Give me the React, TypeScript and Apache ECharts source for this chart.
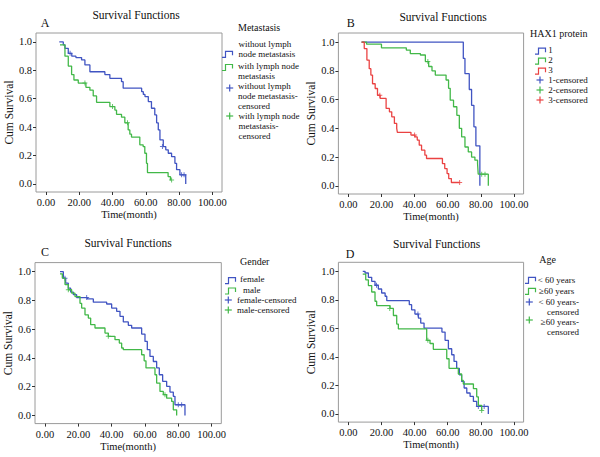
import React, { useEffect, useRef } from 'react';
import * as echarts from 'echarts';

// ---------- tick labels ----------
const xTicks = [0, 20, 40, 60, 80, 100];
const yTicks = [0, 0.2, 0.4, 0.6, 0.8, 1.0];

// ---------- texts ----------
const panelLetters = ['A', 'B', 'C', 'D'];
const chartTitle = 'Survival Functions';
const xName = 'Time(month)';
const yName = 'Cum Survival';
const legendTitles = ['Metastasis', 'HAX1 protein', 'Gender', 'Age'];
const legendA = [['without lymph', 'node metastasis'], ['with lymph node', 'metastasis'], ['without lymph', 'node metastasis-', 'censored'], ['with lymph node', 'metastasis-', 'censored']];
const legendB = ['1', '2', '3', '1-censored', '2-censored', '3-censored'];
const legendC = ['female', 'male', 'female-censored', 'male-censored'];
const legendD = [['< 60 years'], ['\u226560 years'], ['< 60 years-', 'censored'], ['\u226560 years-', 'censored']];

// ---------- A: Metastasis ----------
const tA1 = [8, 10.4, 11.4, 13.4, 15.5, 18, 21.4, 23.4, 26.4, 35.4, 38.4, 45.4, 46.4, 57.5, 58.5, 59.5, 61.5, 63.4, 65.4, 66.5, 67.5, 68.5, 70.5, 72, 73.5, 75.5, 77.5, 78.5, 80.5, 84];
const sA1 = [1.0, 0.98, 0.955, 0.92, 0.9, 0.89, 0.873, 0.838, 0.79, 0.77, 0.744, 0.72, 0.674, 0.65, 0.63, 0.615, 0.58, 0.533, 0.486, 0.43, 0.38, 0.31, 0.263, 0.24, 0.216, 0.192, 0.145, 0.1, 0.064, 0.0];
const tA2 = [8.4, 11.4, 13.4, 15.4, 16.8, 19.4, 24, 26.4, 28.4, 30.4, 38.4, 41.4, 42.4, 45.4, 47.4, 49.4, 50.4, 51.4, 56.4, 58.4, 59.4, 60.4, 61, 73.4, 74.8, 75.5];
const sA2 = [0.98, 0.9, 0.83, 0.77, 0.732, 0.71, 0.68, 0.66, 0.62, 0.575, 0.545, 0.52, 0.49, 0.47, 0.43, 0.38, 0.35, 0.33, 0.275, 0.263, 0.216, 0.145, 0.08, 0.052, 0.028, 0.028];
const cA1t = [14.5, 70, 81.5, 83];
const cA1s = [0.92, 0.263, 0.064, 0.064];
const cA2t = [23.4, 40, 49, 75.5];
const cA2s = [0.71, 0.545, 0.43, 0.028];

// ---------- B: HAX1 protein ----------
const tB1 = [8, 69.4, 70.4, 73, 74.4, 75.8, 77, 79.4];
const sB1 = [1.0, 0.886, 0.78, 0.67, 0.56, 0.41, 0.278, 0.0];
const tB2 = [8, 11, 20, 35, 37.4, 43.5, 46.5, 48.5, 50.5, 52.5, 59, 60.5, 61.5, 63.5, 65.5, 67, 68.4, 70.4, 72.4, 74.4, 76.4, 78, 78.4, 84.5];
const sB2 = [1.0, 0.985, 0.96, 0.944, 0.92, 0.91, 0.864, 0.83, 0.8, 0.77, 0.736, 0.678, 0.596, 0.55, 0.49, 0.4, 0.34, 0.27, 0.236, 0.2, 0.178, 0.155, 0.081, 0.0];
const tB3 = [8, 9.6, 11.2, 12.6, 13.6, 14.6, 16.2, 17.6, 19.2, 22.8, 24.8, 26.2, 27.8, 29.2, 29.6, 37.8, 40.2, 41.6, 42.8, 44.2, 46.2, 47.2, 56.8, 58.2, 59.6, 60.6, 62.2, 67.2];
const sB3 = [1.0, 0.955, 0.875, 0.815, 0.77, 0.71, 0.677, 0.63, 0.608, 0.538, 0.515, 0.48, 0.434, 0.4, 0.372, 0.353, 0.34, 0.318, 0.283, 0.248, 0.213, 0.19, 0.155, 0.12, 0.085, 0.05, 0.023, 0.023];
const cB2t = [48, 80.5, 82.5];
const cB2s = [0.864, 0.081, 0.081];
const cB3t = [19, 40, 67.2];
const cB3s = [0.63, 0.353, 0.023];

// ---------- C: Gender ----------
const tC1 = [9, 11, 12.4, 14, 15.4, 17, 19, 25.4, 29, 37, 40, 43, 45, 47, 50, 52, 58, 60, 61.4, 63, 65, 67, 68.6, 70.6, 73, 75, 77, 78, 84];
const sC1 = [1.0, 0.955, 0.92, 0.885, 0.858, 0.84, 0.82, 0.81, 0.788, 0.775, 0.747, 0.724, 0.689, 0.65, 0.627, 0.608, 0.566, 0.515, 0.457, 0.41, 0.375, 0.33, 0.283, 0.237, 0.202, 0.162, 0.133, 0.074, 0.0];
const tC2 = [9, 10.4, 12, 14, 16, 18, 21, 22, 24, 26, 27.4, 30, 36, 38, 42, 44.6, 46, 47, 58, 59.5, 60.6, 66, 67, 69, 71, 73, 76, 77, 79];
const sC2 = [0.985, 0.955, 0.91, 0.874, 0.85, 0.827, 0.78, 0.747, 0.7, 0.677, 0.631, 0.608, 0.573, 0.55, 0.527, 0.503, 0.469, 0.457, 0.422, 0.38, 0.33, 0.283, 0.225, 0.167, 0.144, 0.12, 0.097, 0.039, 0.0];
const cC1t = [12, 25, 80, 82];
const cC1s = [0.955, 0.82, 0.074, 0.074];
const cC2t = [14, 38, 72];
const cC2s = [0.874, 0.55, 0.144];

// ---------- D: Age ----------
const tD1 = [8.7, 10.1, 12.1, 14.1, 16.1, 18.1, 20.1, 22.2, 23.2, 36.8, 38.2, 40.2, 42.3, 43.7, 45.7, 56.5, 58.4, 60.4, 62.4, 63.8, 65.4, 67, 68.4, 69.9, 71.5, 73.5, 75.5, 77.5, 84.5];
const sD1 = [1.0, 0.988, 0.958, 0.93, 0.902, 0.876, 0.848, 0.825, 0.794, 0.766, 0.73, 0.7, 0.672, 0.637, 0.602, 0.574, 0.516, 0.457, 0.415, 0.368, 0.32, 0.275, 0.228, 0.182, 0.147, 0.123, 0.088, 0.053, 0.0];
const tD2 = [8.7, 10.5, 12.1, 14.1, 16.1, 17.1, 25.2, 27.2, 29.2, 30.2, 47.3, 49.3, 51.3, 59.4, 60.8, 66.4, 68.4, 69.4, 75.5, 77.5, 78.5, 80.5];
const sD2 = [0.98, 0.94, 0.9, 0.855, 0.79, 0.76, 0.74, 0.69, 0.63, 0.596, 0.516, 0.494, 0.453, 0.387, 0.32, 0.28, 0.235, 0.21, 0.177, 0.12, 0.06, 0.025];
const cD1t = [17, 42, 78.5, 82];
const cD1s = [0.902, 0.7, 0.053, 0.053];
const cD2t = [25, 48, 80.5];
const cD2s = [0.74, 0.516, 0.025];

// ---------- styling ----------
const FONT = '"Liberation Serif", "Times New Roman", serif';
const BLUE = '#4054c2';
const GREEN = '#42b848';
const RED = '#ea4242';
const FRAME = '#9a9a9a';
const INK = '#111';
const PLUS = 'path://M0,4 H10 V6 H0 Z M4,0 H6 V10 H4 Z';

const zip = (t: number[], s: number[]) => t.map((v, i) => [v, s[i]]);

const grids = [
  { left: 36, top: 33, width: 186, height: 159 },
  { left: 338.4, top: 33, width: 185.2, height: 161 },
  { left: 35, top: 262.6, width: 186.3, height: 161 },
  { left: 338.4, top: 262.3, width: 185.2, height: 159.8 },
];

const curves: [number, number[], number[], string][] = [
  [0, tA1, sA1, BLUE], [0, tA2, sA2, GREEN],
  [1, tB1, sB1, BLUE], [1, tB2, sB2, GREEN], [1, tB3, sB3, RED],
  [2, tC1, sC1, BLUE], [2, tC2, sC2, GREEN],
  [3, tD1, sD1, BLUE], [3, tD2, sD2, GREEN],
];
const censors: [number, number[], number[], string][] = [
  [0, cA1t, cA1s, BLUE], [0, cA2t, cA2s, GREEN],
  [1, cB2t, cB2s, GREEN], [1, cB3t, cB3s, RED],
  [2, cC1t, cC1s, BLUE], [2, cC2t, cC2s, GREEN],
  [3, cD1t, cD1s, BLUE], [3, cD2t, cD2s, GREEN],
];

function txt(x: number, y: number, text: string, size: number, align = 'left') {
  return {
    type: 'text', x, y, silent: true,
    style: { text, fontFamily: FONT, fontSize: size, fill: INK, textAlign: align, align, textVerticalAlign: 'middle', verticalAlign: 'middle' },
  };
}
// multi-line block; yFirst = centre of the first line
function block(x: number, yFirst: number, lines: string[], size: number, lh: number, align = 'left') {
  return {
    type: 'text', x, y: yFirst - lh / 2, silent: true,
    style: { text: lines.join('\n'), fontFamily: FONT, fontSize: size, lineHeight: lh, fill: INK, textAlign: align, align, textVerticalAlign: 'top', verticalAlign: 'top' },
  };
}
function stepSym(x0: number, y: number, color: string) {
  return {
    type: 'polyline', silent: true,
    shape: { points: [[x0, y + 3], [x0 + 3.5, y + 3], [x0 + 3.5, y - 3], [x0 + 10.5, y - 3], [x0 + 10.5, y + 1]] },
    style: { stroke: color, fill: null, lineWidth: 1.2 },
  };
}
function plusSym(cx: number, cy: number, color: string) {
  return [
    { type: 'line', silent: true, shape: { x1: cx - 3.5, y1: cy, x2: cx + 3.5, y2: cy }, style: { stroke: color, lineWidth: 1.2 } },
    { type: 'line', silent: true, shape: { x1: cx, y1: cy - 3.5, x2: cx, y2: cy + 3.5 }, style: { stroke: color, lineWidth: 1.2 } },
  ];
}

function buildGraphic() {
  const g: any[] = [];
  // titles and letters
  g.push(txt(136, 15, chartTitle, 11.5, 'center'), txt(45, 22.7, panelLetters[0], 12, 'center'));
  g.push(txt(443, 17, chartTitle, 11.5, 'center'), txt(350.7, 23.3, panelLetters[1], 12, 'center'));
  g.push(txt(128, 243, chartTitle, 11.5, 'center'), txt(45, 252, panelLetters[2], 12, 'center'));
  g.push(txt(436.7, 244, chartTitle, 11.5, 'center'), txt(350, 254, panelLetters[3], 12, 'center'));
  const LT = 10; // legend titles
  const LS = 9;  // legend entries
  const LH = 10; // legend line height
  // legend A
  g.push(txt(238, 27.3, legendTitles[0], LT));
  g.push(stepSym(222, 54.3, BLUE), block(238.5, 44.3, legendA[0], LS, LH));
  g.push(stepSym(222, 67.5, GREEN), block(238, 66, legendA[1], LS, LH));
  g.push(...plusSym(229.7, 88, BLUE), block(238, 86, legendA[2], LS, LH));
  g.push(...plusSym(229.7, 116, GREEN), block(238.5, 116, legendA[3], LS, LH));
  // legend B
  g.push(txt(530, 33.3, legendTitles[1], LT));
  const bCol = [BLUE, GREEN, RED];
  const bY = [50, 60, 70, 80, 90, 100];
  for (let i = 0; i < 6; i++) {
    if (i < 3) g.push(stepSym(535, bY[i] + 1.2, bCol[i]));
    else g.push(...plusSym(540, bY[i], bCol[i - 3]));
  }
  g.push(block(548.3, 50, legendB, LS, LH));
  // legend C
  g.push(txt(240, 261.3, legendTitles[2], LT));
  g.push(stepSym(225, 280.7, BLUE), txt(240, 278.5, legendC[0], LS));
  g.push(stepSym(225, 291, GREEN), txt(243, 289.5, legendC[1], LS));
  g.push(...plusSym(228.3, 300, BLUE), ...plusSym(228.3, 310, GREEN));
  g.push(block(237, 300, [legendC[2], legendC[3]], LS, LH));
  // legend D
  g.push(txt(539.3, 259.7, legendTitles[3], LT));
  g.push(stepSym(525, 280.3, BLUE), txt(537.7, 280.3, legendD[0][0], LS));
  g.push(stepSym(525, 291.3, GREEN), txt(539, 291.3, legendD[1][0], LS));
  g.push(...plusSym(529.3, 302, BLUE), ...plusSym(529.3, 320, GREEN));
  g.push(block(579, 302, [...legendD[2], ...legendD[3]], LS, LH, 'right'));
  return g;
}

function buildOption() {
  const xAxis = grids.map((_, i) => ({
    type: 'value', gridIndex: i, min: -6, max: 105.8,
    name: xName, nameLocation: 'middle', nameGap: 16,
    nameTextStyle: { fontFamily: FONT, fontSize: 10.5, color: INK },
    axisLine: { show: false, onZero: false },
    splitLine: { show: false },
    axisTick: { show: true, customValues: xTicks, length: 3, lineStyle: { color: '#333', width: 1 } },
    axisLabel: { customValues: xTicks, formatter: (v: number) => v.toFixed(2), fontFamily: FONT, fontSize: 10.5, color: INK, margin: 5 },
  }));
  const yAxis = grids.map((_, i) => ({
    type: 'value', gridIndex: i, min: -0.057, max: 1.063,
    name: yName, nameLocation: 'middle', nameGap: 19,
    nameTextStyle: { fontFamily: FONT, fontSize: 11.5, color: INK },
    axisLine: { show: false, onZero: false },
    splitLine: { show: false },
    axisTick: { show: true, customValues: yTicks, length: 3, lineStyle: { color: '#333', width: 1 } },
    axisLabel: { customValues: yTicks, formatter: (v: number) => v.toFixed(1), fontFamily: FONT, fontSize: 10.5, color: INK, margin: 4 },
  }));
  const series: any[] = [];
  curves.forEach(([p, t, s, c]) => {
    series.push({
      type: 'line', xAxisIndex: p, yAxisIndex: p, step: 'end', data: zip(t, s),
      symbol: 'none', lineStyle: { color: c, width: 1.3 }, itemStyle: { color: c }, silent: true,
    });
  });
  censors.forEach(([p, t, s, c]) => {
    series.push({
      type: 'scatter', xAxisIndex: p, yAxisIndex: p, data: zip(t, s),
      symbol: PLUS, symbolSize: 5, itemStyle: { color: c }, silent: true,
    });
  });
  return {
    animation: false,
    backgroundColor: '#ffffff',
    grid: grids.map((g) => ({ ...g, show: true, borderColor: FRAME, borderWidth: 1, backgroundColor: 'transparent', containLabel: false })),
    xAxis, yAxis, series,
    graphic: { elements: buildGraphic() },
  };
}

export default function App() {
  const ref = useRef<HTMLDivElement>(null);
  useEffect(() => {
    if (!ref.current) return;
    const chart = echarts.init(ref.current, undefined, { renderer: 'svg', width: 600, height: 457 });
    chart.setOption(buildOption() as any);
    return () => chart.dispose();
  }, []);
  return <div ref={ref} style={{ position: 'fixed', left: 0, top: 0, width: 600, height: 457, background: '#fff' }} />;
}
